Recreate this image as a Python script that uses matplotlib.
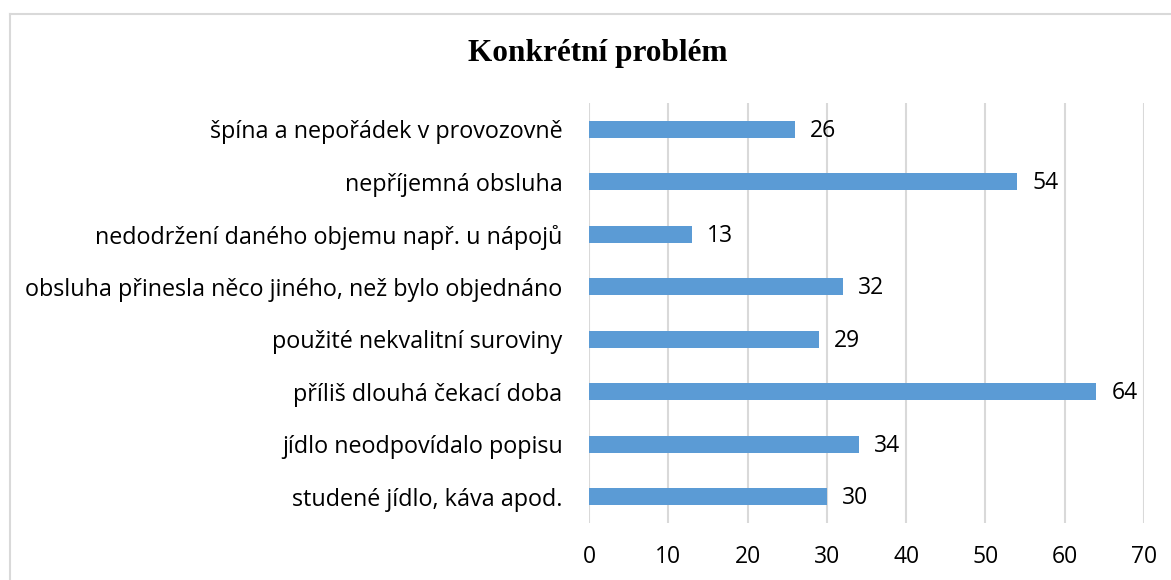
import matplotlib.pyplot as plt
from matplotlib.lines import Line2D

categories = [
    "studené jídlo, káva apod.",
    "jídlo neodpovídalo popisu",
    "příliš dlouhá čekací doba",
    "použité nekvalitní suroviny",
    "obsluha přinesla něco jiného, než bylo objednáno",
    "nedodržení daného objemu např. u nápojů",
    "nepříjemná obsluha",
    "špína a nepořádek v provozovně",
]
values = [30, 34, 64, 29, 32, 13, 54, 26]
ticks = [0, 10, 20, 30, 40, 50, 60, 70]

W, H = 1171, 580
fig = plt.figure(figsize=(W / 100, H / 100), dpi=100)
ax = fig.add_axes([589 / W, 1 - 523 / H, (1144 - 589) / W, (523 - 103) / H])

ax.barh(range(len(categories)), values, height=0.32, color="#5B9BD5", zorder=3)
for i, v in enumerate(values):
    ax.text(v + 1.9, i - 0.03, str(v), va="center", ha="left", fontsize=16.5,
            family="Open Sans", color="#000000")

ax.set_xlim(0, 70)
ax.set_ylim(-0.5, len(categories) - 0.5)
ax.set_xticks(ticks)
ax.set_xticklabels([str(t) for t in ticks], family="Open Sans", fontsize=16.5)
ax.set_yticks(range(len(categories)))
ax.set_yticklabels(categories, family="Open Sans", fontsize=16.8)
ax.tick_params(axis="both", length=0)
ax.tick_params(axis="x", pad=16)
ax.tick_params(axis="y", pad=19)
ax.grid(axis="x", color="#D9D9D9", linewidth=1.5, zorder=0)
for s in ax.spines.values():
    s.set_visible(False)

fig.text(598 / W, 1 - 53 / H, "Konkrétní problém", ha="center", va="center",
         fontsize=22.5, fontweight="bold", family="Liberation Serif")

# chart border (only top and left edges visible in the crop)
fig.add_artist(Line2D([9.5 / W, 9.5 / W], [0, 1 - 13.5 / H], color="#D9D9D9",
                      linewidth=1.5, transform=fig.transFigure))
fig.add_artist(Line2D([9.5 / W, 1], [1 - 13.5 / H, 1 - 13.5 / H], color="#D9D9D9",
                      linewidth=1.5, transform=fig.transFigure))

fig.savefig("out.png", dpi=100)
